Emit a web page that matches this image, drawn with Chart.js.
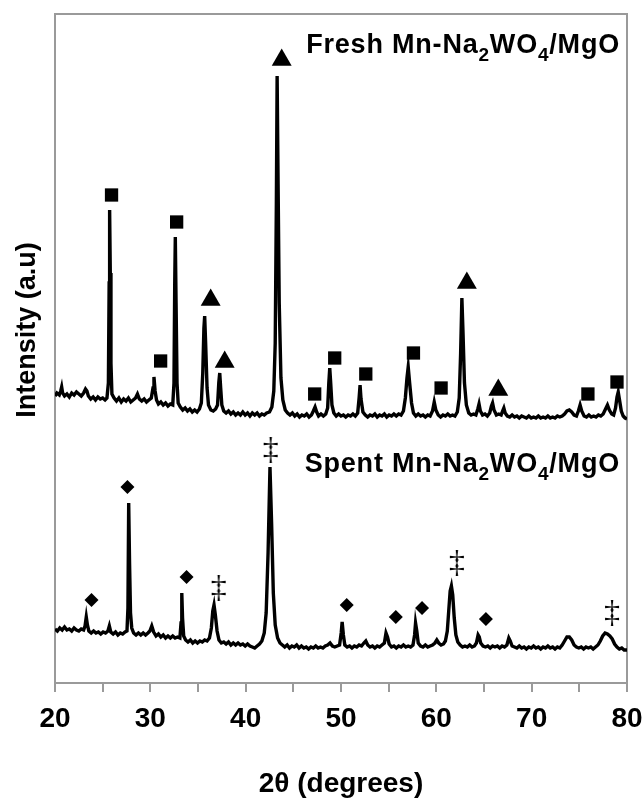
<!DOCTYPE html>
<html>
<head>
<meta charset="utf-8">
<script src="https://cdn.jsdelivr.net/npm/chart.js@4.4.1/dist/chart.umd.min.js"></script>
<style>
  html, body { margin: 0; padding: 0; background: #fff; }
</style>
</head>
<body>
<canvas id="xrdChart" width="644" height="801"></canvas>
<script>
// 2-theta / intensity pairs (spent trace at the bottom, fresh trace stacked above it)
const freshPattern = [
  [20.0,287],[20.2,290],[20.45,288],[20.6,292],[20.7,296],[20.8,290],[21.0,287],[21.25,289],[21.5,286],[21.75,290],
  [22.0,288],[22.25,291],[22.5,289],[22.75,287],[23.0,290],[23.2,294],[23.35,292],[23.5,287],[23.75,284],[24.0,286],
  [24.25,283],[24.5,286],[24.75,284],[25.0,285],[25.25,283],[25.45,285],[25.6,300],[25.68,400],[25.73,473],[25.8,410],
  [25.87,320],[25.97,289],[26.2,285],[26.45,282],[26.7,285],[26.95,281],[27.2,284],[27.45,282],[27.7,285],[27.95,281],
  [28.2,283],[28.45,285],[28.65,289],[28.85,284],[29.1,282],[29.35,284],[29.6,281],[29.85,283],[30.1,285],[30.28,295],
  [30.38,306],[30.5,292],[30.65,283],[30.85,279],[31.1,281],[31.35,278],[31.6,280],[31.85,277],[32.1,279],[32.35,278],
  [32.48,300],[32.56,400],[32.62,446],[32.7,380],[32.8,300],[32.92,280],[33.15,276],[33.4,273],[33.65,275],[33.9,272],
  [34.15,274],[34.4,271],[34.65,273],[34.9,271],[35.15,274],[35.35,280],[35.5,310],[35.62,355],[35.7,367],[35.8,340],
  [35.95,295],[36.1,278],[36.35,273],[36.6,272],[36.85,274],[37.05,278],[37.18,300],[37.28,310],[37.38,295],[37.5,278],
  [37.7,272],[37.95,270],[38.2,272],[38.45,269],[38.7,271],[38.95,268],[39.2,270],[39.45,268],[39.7,271],[39.95,268],
  [40.2,270],[40.45,267],[40.7,270],[40.95,268],[41.2,270],[41.45,267],[41.7,269],[41.95,268],[42.2,270],[42.5,271],
  [42.75,276],[42.95,292],[43.1,340],[43.22,480],[43.3,607],[43.4,500],[43.52,380],[43.7,305],[43.9,283],[44.15,273],
  [44.4,270],[44.65,268],[44.9,270],[45.15,267],[45.4,269],[45.65,266],[45.9,268],[46.15,267],[46.4,269],[46.65,266],
  [46.9,268],[47.1,272],[47.28,276],[47.45,271],[47.65,267],[47.9,269],[48.15,267],[48.4,269],[48.6,275],[48.72,300],
  [48.82,315],[48.92,300],[49.05,278],[49.25,270],[49.5,267],[49.75,269],[50.0,267],[50.25,268],[50.5,266],[50.75,268],
  [51.0,267],[51.25,269],[51.5,267],[51.75,270],[51.9,285],[52.0,298],[52.1,284],[52.3,271],[52.55,268],[52.8,266],
  [53.05,268],[53.3,267],[53.55,269],[53.8,266],[54.05,268],[54.3,267],[54.55,269],[54.8,266],[55.05,268],[55.3,267],
  [55.55,269],[55.8,267],[56.05,269],[56.3,268],[56.55,272],[56.75,285],[56.92,305],[57.05,316],[57.2,300],[57.4,280],
  [57.6,270],[57.85,267],[58.1,269],[58.35,267],[58.6,268],[58.85,266],[59.1,268],[59.35,267],[59.6,272],[59.78,281],
  [59.95,273],[60.2,268],[60.45,266],[60.7,268],[60.95,267],[61.2,269],[61.45,267],[61.7,268],[61.95,267],[62.2,271],
  [62.4,285],[62.55,330],[62.68,385],[62.8,350],[62.95,300],[63.15,278],[63.4,270],[63.65,268],[63.9,269],[64.15,268],
  [64.35,274],[64.48,279],[64.62,272],[64.85,268],[65.1,269],[65.35,267],[65.6,270],[65.78,277],[65.9,280],[66.05,273],
  [66.3,268],[66.55,269],[66.8,268],[66.95,272],[67.08,275],[67.22,270],[67.45,267],[67.7,266],[67.95,268],[68.2,266],
  [68.45,267],[68.7,265],[68.95,267],[69.2,266],[69.45,265],[69.7,267],[69.95,265],[70.2,266],[70.45,265],[70.7,267],
  [70.95,265],[71.2,266],[71.45,265],[71.7,267],[71.95,265],[72.2,266],[72.45,265],[72.7,267],[72.95,266],[73.2,267],
  [73.45,269],[73.7,272],[73.95,273],[74.2,271],[74.45,268],[74.7,267],[74.9,272],[75.08,278],[75.25,272],[75.5,267],
  [75.75,266],[76.0,268],[76.25,266],[76.5,267],[76.75,266],[77.0,268],[77.25,267],[77.5,269],[77.75,274],[77.95,278],
  [78.15,273],[78.4,269],[78.6,268],[78.8,275],[78.95,286],[79.08,291],[79.2,284],[79.4,272],[79.6,267],[79.8,265],
  [80.0,264]
];

const spentPattern = [
  [20.0,54],[20.25,52],[20.5,55],[20.75,53],[21.0,56],[21.25,53],[21.5,54],[21.75,52],[22.0,55],[22.25,53],
  [22.5,52],[22.75,54],[23.0,53],[23.15,57],[23.28,66],[23.4,58],[23.55,52],[23.8,50],[24.05,52],[24.3,50],
  [24.55,51],[24.8,49],[25.05,51],[25.3,50],[25.55,52],[25.7,57],[25.85,51],[26.1,49],[26.35,51],[26.6,48],
  [26.85,50],[27.1,49],[27.35,51],[27.55,52],[27.65,75],[27.73,180],[27.82,120],[27.92,70],[28.05,55],[28.25,50],
  [28.5,48],[28.75,50],[29.0,48],[29.25,50],[29.5,48],[29.75,50],[29.95,52],[30.15,57],[30.35,51],[30.6,47],
  [30.85,49],[31.1,46],[31.35,48],[31.6,45],[31.85,47],[32.1,45],[32.35,47],[32.6,45],[32.85,46],[33.1,45],
  [33.22,60],[33.3,90],[33.38,65],[33.5,47],[33.7,43],[33.95,41],[34.2,43],[34.45,40],[34.7,42],[34.95,40],
  [35.2,42],[35.45,41],[35.7,43],[35.95,42],[36.2,45],[36.4,55],[36.55,72],[36.68,78],[36.82,68],[37.0,52],
  [37.2,43],[37.45,40],[37.7,41],[37.95,39],[38.2,41],[38.45,38],[38.7,40],[38.95,38],[39.2,40],[39.45,38],
  [39.7,39],[39.95,37],[40.2,39],[40.45,37],[40.7,36],[40.95,35],[41.2,37],[41.45,39],[41.7,42],[41.95,50],
  [42.15,70],[42.35,130],[42.55,216],[42.72,160],[42.9,90],[43.1,58],[43.35,45],[43.6,40],[43.85,38],[44.1,36],
  [44.35,38],[44.6,35],[44.85,37],[45.1,36],[45.35,38],[45.6,35],[45.85,37],[46.1,35],[46.35,36],[46.6,34],
  [46.85,36],[47.1,35],[47.35,37],[47.6,35],[47.85,36],[48.1,35],[48.35,37],[48.6,38],[48.85,40],[49.1,37],
  [49.35,36],[49.6,37],[49.85,38],[50.02,50],[50.12,61],[50.25,48],[50.4,38],[50.65,36],[50.9,37],[51.15,35],
  [51.4,37],[51.65,36],[51.9,38],[52.15,37],[52.4,40],[52.6,42],[52.8,38],[53.05,36],[53.3,37],[53.55,35],
  [53.8,37],[54.05,36],[54.3,38],[54.55,40],[54.72,50],[54.88,46],[55.05,39],[55.3,36],[55.55,37],[55.8,35],
  [56.05,37],[56.3,36],[56.55,38],[56.8,36],[57.05,37],[57.3,36],[57.55,38],[57.72,48],[57.82,60],[57.95,52],
  [58.1,40],[58.35,37],[58.6,36],[58.85,38],[59.1,36],[59.35,37],[59.6,38],[59.85,40],[60.05,43],[60.25,40],
  [60.5,38],[60.75,39],[60.95,42],[61.15,52],[61.3,72],[61.45,92],[61.58,97],[61.72,88],[61.88,65],[62.05,48],
  [62.25,41],[62.5,38],[62.75,36],[63.0,37],[63.25,36],[63.5,38],[63.75,36],[64.0,37],[64.2,40],[64.38,48],
  [64.5,46],[64.65,40],[64.9,37],[65.15,36],[65.4,37],[65.65,35],[65.9,37],[66.15,36],[66.4,37],[66.65,35],
  [66.9,37],[67.15,36],[67.4,38],[67.6,45],[67.75,42],[67.95,37],[68.2,36],[68.45,35],[68.7,37],[68.95,35],
  [69.2,36],[69.45,34],[69.7,36],[69.95,35],[70.2,37],[70.45,35],[70.7,36],[70.95,34],[71.2,36],[71.45,35],
  [71.7,37],[71.95,35],[72.2,36],[72.45,34],[72.7,36],[72.95,35],[73.2,38],[73.45,42],[73.7,46],[73.95,46],
  [74.2,43],[74.45,38],[74.7,36],[74.95,35],[75.2,36],[75.45,34],[75.7,36],[75.95,35],[76.2,36],[76.45,34],
  [76.7,36],[76.95,38],[77.2,42],[77.45,47],[77.7,50],[77.95,49],[78.2,47],[78.45,44],[78.7,39],[78.95,36],
  [79.2,34],[79.45,35],[79.7,33],[80.0,33]
];

// phase markers
const squareMarks = [[25.93,488],[31.08,322],[32.76,461],[47.24,289],[49.34,325],[52.6,309],[57.6,330],[60.5,295],[75.9,289],[78.95,301]];
const triangleMarks = [[36.33,383],[37.8,321],[43.78,623],[63.2,400],[66.5,293]];
const diamondMarks = [[23.83,83],[27.6,196],[33.8,106],[50.6,78],[55.75,66],[58.5,75],[65.2,64]];
const daggerMarks = [[37.17,95],[42.62,233],[62.15,120],[78.43,70]];

const xTickLabels = [20, 30, 40, 50, 60, 70, 80];
const sampleNames = ['Fresh', 'Spent'];
const sampleLabelY = [630, 211];
const yTitle = 'Intensity (a.u)';

const FONT = "'Liberation Sans', Arial, sans-serif";

const toPoints = arr => arr.map(p => ({ x: p[0], y: p[1] }));

function makeDagger() {
  const c = document.createElement('canvas');
  c.width = 18;
  c.height = 32;
  const g = c.getContext('2d');
  g.fillStyle = '#000';
  g.font = "32px 'Liberation Serif', serif";
  g.textAlign = 'center';
  g.textBaseline = 'middle';
  g.fillText('\u2021', 9, 17);
  return c;
}

// frame round the plot area
const plotFrame = {
  id: 'plotFrame',
  beforeDatasetsDraw(chart) {
    const { ctx, chartArea: a } = chart;
    ctx.save();
    ctx.strokeStyle = '#9a9a9a';
    ctx.lineWidth = 2;
    ctx.strokeRect(a.left, a.top, a.right - a.left, a.bottom - a.top);
    ctx.restore();
  }
};

// sample names with subscripts + the y title (sits a bit above centre in the original)
const sampleLabels = {
  id: 'sampleLabels',
  afterDatasetsDraw(chart) {
    const { ctx, scales: { x, y } } = chart;
    sampleNames.forEach((name, i) => {
      const parts = [[name + ' Mn-Na', false], ['2', true], ['WO', false], ['4', true], ['/MgO', false]];
      const big = 'bold 27px ' + FONT;
      const small = 'bold 19px ' + FONT;
      ctx.save();
      ctx.letterSpacing = '0.8px';
      let total = 0;
      parts.forEach(p => { ctx.font = p[1] ? small : big; total += ctx.measureText(p[0]).width; });
      let px = x.getPixelForValue(80) - 7 - total;
      const py = y.getPixelForValue(sampleLabelY[i]);
      ctx.fillStyle = '#000';
      ctx.textBaseline = 'alphabetic';
      ctx.textAlign = 'left';
      parts.forEach(p => {
        ctx.font = p[1] ? small : big;
        ctx.fillText(p[0], px, p[1] ? py + 8 : py);
        px += ctx.measureText(p[0]).width;
      });
      ctx.restore();
    });

    ctx.save();
    ctx.translate(28, y.getPixelForValue(353));
    ctx.rotate(-Math.PI / 2);
    ctx.font = 'bold 27px ' + FONT;
    ctx.fillStyle = '#000';
    ctx.textAlign = 'center';
    ctx.textBaseline = 'middle';
    ctx.fillText(yTitle, 0, 0);
    ctx.restore();
  }
};

const markerSet = (data, style, radius) => ({
  type: 'scatter',
  data: toPoints(data),
  showLine: false,
  pointStyle: style,
  pointRadius: radius,
  pointHoverRadius: radius,
  backgroundColor: '#000',
  borderColor: '#000',
  borderWidth: 0
});

new Chart(document.getElementById('xrdChart'), {
  type: 'line',
  data: {
    datasets: [
      { data: toPoints(freshPattern), borderColor: '#000', borderWidth: 3.4, pointRadius: 0, tension: 0 },
      { data: toPoints(spentPattern), borderColor: '#000', borderWidth: 3.4, pointRadius: 0, tension: 0 },
      markerSet(squareMarks, 'rect', 9.4),
      markerSet(triangleMarks, 'triangle', 11.5),
      markerSet(diamondMarks, 'rectRot', 7),
      markerSet(daggerMarks, makeDagger(), 10)
    ]
  },
  options: {
    responsive: false,
    animation: false,
    layout: { padding: { top: 14, right: 17, left: 0, bottom: 0 } },
    plugins: { legend: { display: false }, tooltip: { enabled: false } },
    scales: {
      x: {
        type: 'linear',
        min: 20,
        max: 80,
        afterFit(scale) {
          scale.height = 118;
          scale.paddingLeft = 0;
          scale.paddingRight = 0;
        },
        border: { display: false },
        grid: { drawOnChartArea: false, drawTicks: true, tickLength: 9, color: '#9a9a9a', lineWidth: 2 },
        ticks: {
          stepSize: 5,
          padding: 10,
          color: '#000',
          font: { family: FONT, size: 28, weight: 'bold' },
          callback: v => xTickLabels.includes(v) ? String(v) : ''
        },
        title: {
          display: true,
          text: '2\u03b8 (degrees)',
          color: '#000',
          font: { family: FONT, size: 28, weight: 'bold' },
          padding: { top: 0, bottom: 0 }
        }
      },
      y: {
        min: 0,
        max: 669,
        afterFit(scale) { scale.width = 55; },
        border: { display: false },
        grid: { display: false },
        ticks: { display: false },
        title: { display: false }
      }
    }
  },
  plugins: [plotFrame, sampleLabels]
});
</script>
</body>
</html>
